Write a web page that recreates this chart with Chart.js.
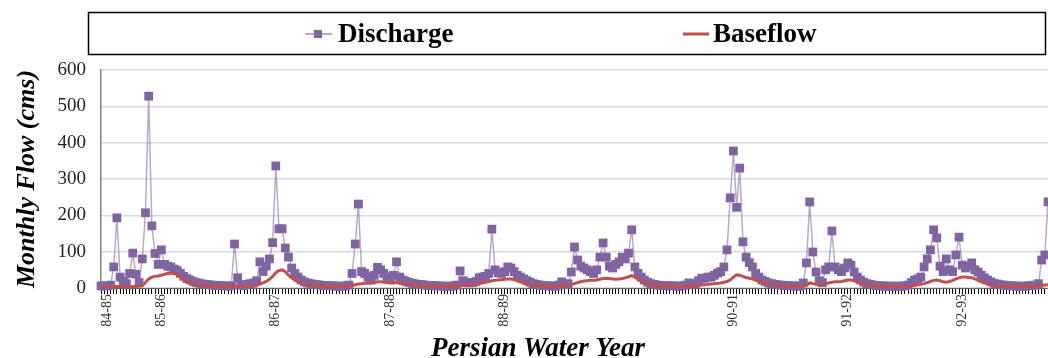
<!DOCTYPE html>
<html><head><meta charset="utf-8">
<script src="https://cdn.jsdelivr.net/npm/chart.js@4.4.1/dist/chart.umd.min.js"></script>
<style>html,body{margin:0;padding:0;background:#fff;overflow:hidden}#wrap{width:1048px;height:358px;position:relative}</style>
</head><body><div id="wrap"><canvas id="c" width="1048" height="358"></canvas></div>
<script>
const yearLabels = ['84-85','85-86','86-87','87-88','88-89','90-91','91-92','92-93'];
const yearStarts = [2,19,55,91,127,199,235,271];

const discharge = [
  6,5,6,8,58,193,30,18,12,40,96,38,15,80,207,528,171,95,65,
  105,65,60,58,52,48,40,32,26,22,18,15,13,11,10,9,8,7,7,6,6,5,6,121,28,8,6,10,12,14,20,72,45,60,80,125,
  336,163,163,110,85,55,40,30,22,17,14,12,10,9,8,7,7,6,6,5,5,5,6,8,40,121,231,45,40,30,22,35,57,50,40,30,
  25,35,72,30,22,18,15,13,11,10,9,8,7,7,6,6,5,5,5,5,6,8,47,20,15,14,15,18,28,30,32,40,162,50,42,40,
  45,58,55,45,35,30,25,20,16,12,10,8,7,6,6,5,5,8,17,10,12,44,113,77,60,55,50,45,40,50,85,124,85,60,55,65,
  72,85,80,96,160,58,40,30,22,16,12,10,8,7,7,6,6,6,5,5,6,8,14,10,12,20,27,27,30,30,35,41,45,58,105,248,
  377,222,330,127,85,70,58,40,30,22,18,14,12,10,9,8,7,6,6,6,5,5,14,69,237,99,44,20,15,50,58,157,58,50,45,55,
  69,63,44,30,22,16,12,10,8,7,6,6,5,5,5,5,5,5,6,8,15,22,25,30,58,80,105,160,138,60,45,80,50,45,91,140,
  63,55,60,69,50,44,35,28,22,17,13,11,9,8,7,6,6,5,5,5,5,6,7,8,12,77,91,237
];

const baseflow = [
  3,3,3,3,4,4,4,4,3,3,4,4,5,6,15,25,30,32,33,
  35,38,40,41,40,36,30,25,20,16,13,11,9,8,7,6,6,5,5,4,4,4,4,6,5,4,4,5,6,7,8,11,14,18,24,32,
  42,48,50,45,35,28,22,17,14,11,9,8,7,6,5,5,4,4,4,4,4,4,4,5,7,9,11,12,13,13,14,15,17,17,16,15,
  14,14,15,13,12,11,10,9,8,7,7,6,6,5,5,5,4,4,4,4,4,5,7,8,8,9,9,10,12,14,16,18,20,21,22,23,
  24,25,25,23,20,17,14,12,10,8,7,6,6,5,5,4,4,5,6,6,7,9,12,15,17,19,20,21,21,22,24,26,27,26,25,24,
  25,26,28,31,34,30,24,18,14,11,9,8,7,6,6,5,5,5,4,4,4,4,5,5,6,7,8,9,10,11,12,13,14,16,18,22,
  30,36,35,32,29,27,25,22,19,16,13,11,9,8,7,6,6,5,5,5,4,4,5,8,14,12,10,9,10,12,14,16,17,17,18,20,
  22,22,20,17,14,11,9,8,7,6,5,5,5,4,4,4,4,4,4,5,6,7,9,10,12,15,18,21,22,20,17,16,18,21,25,28,
  30,30,29,28,25,21,17,14,12,10,8,7,6,6,5,5,5,4,4,4,4,4,5,5,6,7,8,9
];

// unlabeled categories are empty arrays (tick mark kept, no label box)
const categories = discharge.map((_, i) => {
  const k = yearStarts.indexOf(i);
  return k >= 0 ? yearLabels[k] : [];
});

const SERIF = "'Liberation Serif', 'Times New Roman', serif";
const PURPLE = '#8064a2';
const PURPLE_LINE = 'rgba(128,100,162,0.55)';
const RED = '#c0504d';

const decor = {
  id: 'decor',
  afterDraw(chart) {
    const ctx = chart.ctx;
    const ds = chart.data.datasets;
    ctx.save();
    ctx.strokeStyle = '#000';
    ctx.lineWidth = 1.5;
    ctx.strokeRect(88.5, 12.5, 957, 42);
    ctx.font = 'bold 27px ' + SERIF;
    ctx.textBaseline = 'middle';
    ctx.textAlign = 'left';
    ctx.strokeStyle = PURPLE_LINE;
    ctx.lineWidth = 2;
    ctx.beginPath(); ctx.moveTo(305, 34); ctx.lineTo(332, 34); ctx.stroke();
    ctx.fillStyle = PURPLE;
    ctx.fillRect(314, 30, 8, 8);
    ctx.fillStyle = '#000';
    ctx.fillText(ds[0].label, 338, 35);
    ctx.strokeStyle = RED;
    ctx.lineWidth = 3;
    ctx.beginPath(); ctx.moveTo(683, 34); ctx.lineTo(709, 34); ctx.stroke();
    ctx.fillStyle = '#000';
    ctx.fillText(ds[1].label, 713, 35);
    ctx.font = 'italic bold 27px ' + SERIF;
    ctx.textAlign = 'center';
    ctx.textBaseline = 'alphabetic';
    ctx.fillText('Persian Water Year', 538, 356);
    ctx.restore();
  }
};

new Chart(document.getElementById('c'), {
  type: 'line',
  data: {
    labels: categories,
    datasets: [
      {
        label: 'Discharge',
        data: discharge,
        borderColor: PURPLE_LINE,
        borderWidth: 1.5,
        pointStyle: 'rect',
        pointRadius: 6.2,
        pointBackgroundColor: PURPLE,
        pointBorderColor: PURPLE,
        pointBorderWidth: 0,
        tension: 0,
        clip: false,
        order: 1
      },
      {
        label: 'Baseflow',
        data: baseflow,
        borderColor: RED,
        borderWidth: 3,
        pointRadius: 0,
        tension: 0,
        order: 0
      }
    ]
  },
  options: {
    responsive: false,
    animation: false,
    devicePixelRatio: 1,
    layout: { autoPadding: false, padding: { top: 70, left: 0, right: 0, bottom: 0 } },
    plugins: { legend: { display: false }, tooltip: { enabled: false } },
    scales: {
      x: {
        type: 'category',
        offset: false,
        afterFit(s) { s.height = 70; },
        grid: { drawOnChartArea: false, drawTicks: true, tickLength: 6, color: '#000', lineWidth: 1 },
        border: { display: true, color: '#666', width: 1 },
        ticks: {
          autoSkip: false, minRotation: 90, maxRotation: 90, padding: 0,
          color: '#333', font: { family: SERIF, size: 14 }
        }
      },
      y: {
        min: 0, max: 600,
        afterFit(s) { s.width = 101; },
        grid: { color: '#dadada', lineWidth: 1.5, drawTicks: false },
        border: { display: true, color: '#808080', width: 1.5 },
        ticks: { stepSize: 100, padding: 15, color: '#222', font: { family: SERIF, size: 19 } },
        title: {
          display: true, text: 'Monthly Flow (cms)', color: '#000',
          font: { family: SERIF, size: 26, style: 'italic', weight: 'bold' },
          padding: { top: 12, bottom: 0 }
        }
      }
    }
  },
  plugins: [decor]
});
</script>
</body></html>
